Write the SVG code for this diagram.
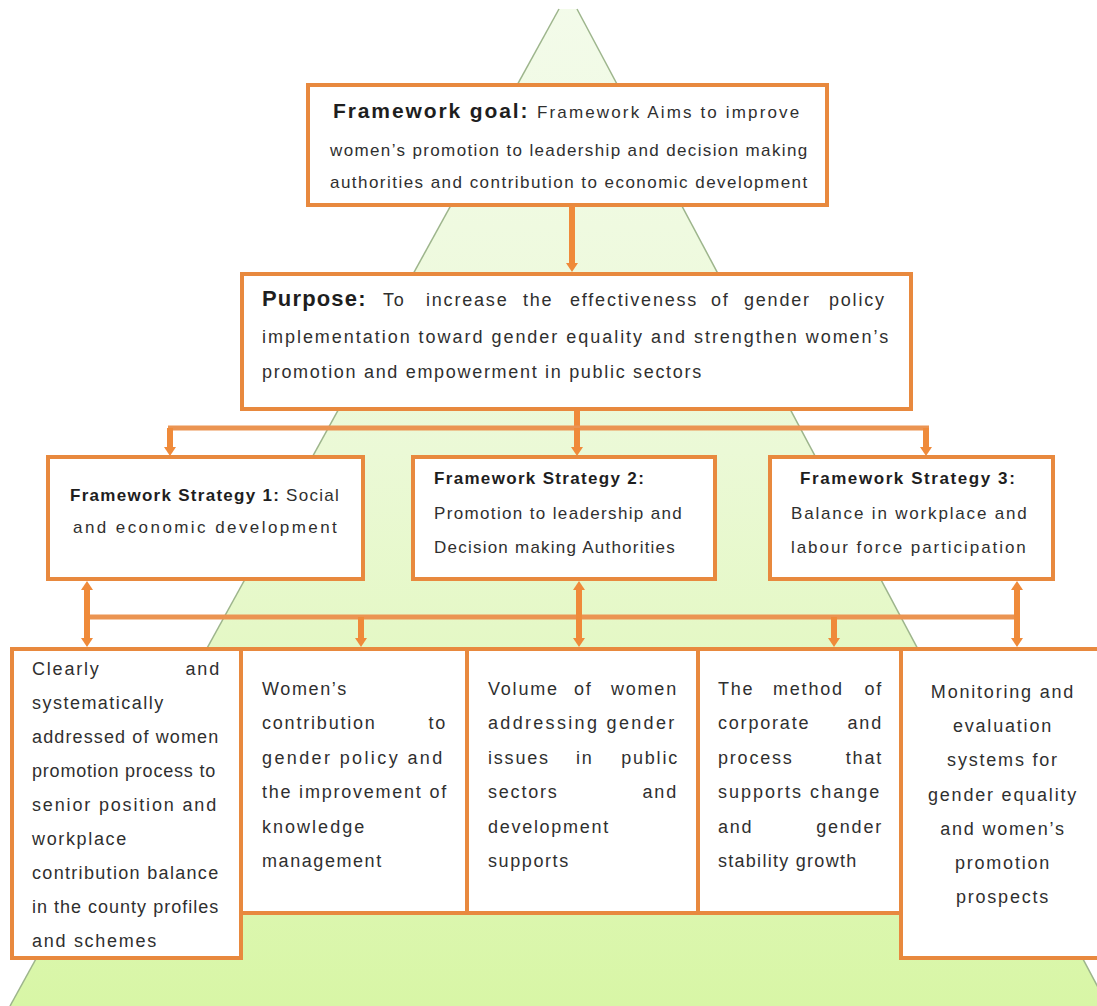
<svg xmlns="http://www.w3.org/2000/svg" width="1097" height="1006" viewBox="0 0 1097 1006">
<defs>
<linearGradient id="tri" x1="0" y1="0" x2="0" y2="1006" gradientUnits="userSpaceOnUse">
<stop offset="0" stop-color="#f3fbea"/>
<stop offset="0.45" stop-color="#ebf9d6"/>
<stop offset="1" stop-color="#d8f6a6"/>
</linearGradient>
<marker id="ah" viewBox="0 0 9 12" refX="0" refY="6" markerWidth="9" markerHeight="12" markerUnits="userSpaceOnUse" orient="auto-start-reverse">
<path d="M0,0 L9,6 L0,12 z" fill="#ef8a3a"/>
</marker>
<style>
.box{fill:#ffffff;stroke:#e8893e;stroke-width:4}
.t{font-family:"Liberation Sans",Arial,sans-serif;font-size:18px;letter-spacing:1.8px;fill:#2f2f2f}
.s{font-size:17px;letter-spacing:1.2px}
.g{font-size:17px;letter-spacing:0.8px}
.b{font-weight:bold;fill:#1e1e1e}
.h{font-size:21px;letter-spacing:0.6px}
.e{text-anchor:end}
.m{text-anchor:middle}
.edge{stroke:#9db58c;stroke-width:1.5;fill:none}
.conn line{stroke:#ef8a3a;stroke-width:6;fill:none}
.conn line.bar{stroke:#eb9452;stroke-width:5}
</style>
</defs>
<rect width="1097" height="1006" fill="#ffffff"/>
<g id="pyramid">
<polygon points="559,9 577,9 1108,1006 10,1006" fill="url(#tri)"/>
<line class="edge" x1="559" y1="9" x2="10" y2="1006"/>
<line class="edge" x1="577" y1="9" x2="1108" y2="1006"/>
</g>

<g id="goal">
<rect class="box" x="308" y="85" width="519" height="120"/>
<text class="t b h" x="333" y="118" textLength="195" lengthAdjust="spacing">Framework goal:</text>
<text class="t g" x="537" y="118" textLength="263" lengthAdjust="spacing">Framework Aims to improve</text>
<text class="t g" x="330" y="156" textLength="478" lengthAdjust="spacing">women’s promotion to leadership and decision making</text>
<text class="t g" x="330" y="188" textLength="478" lengthAdjust="spacing">authorities and contribution to economic development</text>
</g>

<g id="purpose">
<rect class="box" x="242" y="274" width="669" height="135"/>
<text class="t b" x="262" y="306" style="font-size:22px;letter-spacing:0.5px" textLength="104" lengthAdjust="spacing">Purpose:</text>
<text class="t" y="306"><tspan x="383">To</tspan><tspan x="426">increase</tspan><tspan x="523">the</tspan><tspan x="570">effectiveness</tspan><tspan x="711">of</tspan><tspan x="744">gender</tspan><tspan x="829">policy</tspan></text>
<text class="t" x="262" y="343" textLength="628" lengthAdjust="spacing">implementation toward gender equality and strengthen women’s</text>
<text class="t" x="262" y="378" textLength="441" lengthAdjust="spacing">promotion and empowerment in public sectors</text>
</g>

<g id="strategy1">
<rect class="box" x="48" y="457" width="315" height="122"/>
<text class="t s" x="70" y="501" textLength="270" lengthAdjust="spacing"><tspan class="b">Framework Strategy 1:</tspan> Social</text>
<text class="t s" x="73" y="533" textLength="265" lengthAdjust="spacing">and economic development</text>
</g>

<g id="strategy2">
<rect class="box" x="413" y="457" width="302" height="122"/>
<text class="t s b" x="434" y="484" textLength="211" lengthAdjust="spacing">Framework Strategy 2:</text>
<text class="t s" x="434" y="519" textLength="249" lengthAdjust="spacing">Promotion to leadership and</text>
<text class="t s" x="434" y="553" textLength="242" lengthAdjust="spacing">Decision making Authorities</text>
</g>

<g id="strategy3">
<rect class="box" x="770" y="457" width="283" height="122"/>
<text class="t s b" x="800" y="484" textLength="216" lengthAdjust="spacing">Framework Strategy 3:</text>
<text class="t s" x="791" y="519" textLength="237" lengthAdjust="spacing">Balance in workplace and</text>
<text class="t s" x="791" y="553" textLength="236" lengthAdjust="spacing">labour force participation</text>
</g>

<g id="boxA">
<rect class="box" x="12" y="649" width="229" height="309"/>
<text class="t" x="32" y="675">Clearly</text>
<text class="t e" x="221" y="675">and</text>
<text class="t" x="32" y="709" textLength="133" lengthAdjust="spacing">systematically</text>
<text class="t" x="32" y="743" textLength="188" lengthAdjust="spacing">addressed of women</text>
<text class="t" x="32" y="777" textLength="185" lengthAdjust="spacing">promotion process to</text>
<text class="t" x="32" y="811" textLength="186" lengthAdjust="spacing">senior position and</text>
<text class="t" x="32" y="845" textLength="96" lengthAdjust="spacing">workplace</text>
<text class="t" x="32" y="879" textLength="188" lengthAdjust="spacing">contribution balance</text>
<text class="t" x="32" y="913" textLength="188" lengthAdjust="spacing">in the county profiles</text>
<text class="t" x="32" y="947" textLength="126" lengthAdjust="spacing">and schemes</text>
</g>

<g id="boxB">
<rect class="box" x="241" y="649" width="226" height="264"/>
<text class="t" x="262" y="695" textLength="86" lengthAdjust="spacing">Women’s</text>
<text class="t" x="262" y="729">contribution</text>
<text class="t e" x="447" y="729">to</text>
<text class="t" x="262" y="764" textLength="182" lengthAdjust="spacing">gender policy and</text>
<text class="t" x="262" y="798" textLength="186" lengthAdjust="spacing">the improvement of</text>
<text class="t" x="262" y="833" textLength="104" lengthAdjust="spacing">knowledge</text>
<text class="t" x="262" y="867" textLength="121" lengthAdjust="spacing">management</text>
</g>

<g id="boxC">
<rect class="box" x="467" y="649" width="231" height="264"/>
<text class="t" x="488" y="695">Volume</text>
<text class="t" x="574" y="695">of</text>
<text class="t e" x="678" y="695">women</text>
<text class="t" x="488" y="729" textLength="188" lengthAdjust="spacing">addressing gender</text>
<text class="t" x="488" y="764">issues</text>
<text class="t" x="576" y="764">in</text>
<text class="t e" x="679" y="764">public</text>
<text class="t" x="488" y="798">sectors</text>
<text class="t e" x="678" y="798">and</text>
<text class="t" x="488" y="833" textLength="122" lengthAdjust="spacing">development</text>
<text class="t" x="488" y="867" textLength="82" lengthAdjust="spacing">supports</text>
</g>

<g id="boxD">
<rect class="box" x="698" y="649" width="203" height="264"/>
<text class="t" x="718" y="695">The</text>
<text class="t" x="773" y="695">method</text>
<text class="t e" x="883" y="695">of</text>
<text class="t" x="718" y="729">corporate</text>
<text class="t e" x="883" y="729">and</text>
<text class="t" x="718" y="764">process</text>
<text class="t e" x="883" y="764">that</text>
<text class="t" x="718" y="798" textLength="163" lengthAdjust="spacing">supports change</text>
<text class="t" x="718" y="833">and</text>
<text class="t e" x="883" y="833">gender</text>
<text class="t" x="718" y="867" textLength="140" lengthAdjust="spacing">stability growth</text>
</g>

<g id="boxE">
<rect class="box" x="901" y="649" width="210" height="309"/>
<text class="t m" x="1003" y="698">Monitoring and</text>
<text class="t m" x="1003" y="732">evaluation</text>
<text class="t m" x="1003" y="766">systems for</text>
<text class="t m" x="1003" y="801">gender equality</text>
<text class="t m" x="1003" y="835">and women’s</text>
<text class="t m" x="1003" y="869">promotion</text>
<text class="t m" x="1003" y="903">prospects</text>
</g>

<g id="connectors" class="conn">
<line x1="572" y1="206" x2="572" y2="263" marker-end="url(#ah)"/>
<line x1="577" y1="410" x2="577" y2="428"/>
<line class="bar" x1="168" y1="428" x2="929" y2="428"/>
<line x1="170" y1="428" x2="170" y2="447" marker-end="url(#ah)"/>
<line x1="577" y1="428" x2="577" y2="447" marker-end="url(#ah)"/>
<line x1="926" y1="428" x2="926" y2="447" marker-end="url(#ah)"/>
<line class="bar" x1="87" y1="617" x2="1017" y2="617"/>
<line x1="87" y1="590" x2="87" y2="638" marker-start="url(#ah)" marker-end="url(#ah)"/>
<line x1="579" y1="590" x2="579" y2="638" marker-start="url(#ah)" marker-end="url(#ah)"/>
<line x1="1017" y1="590" x2="1017" y2="638" marker-start="url(#ah)" marker-end="url(#ah)"/>
<line x1="361" y1="617" x2="361" y2="638" marker-end="url(#ah)"/>
<line x1="834" y1="617" x2="834" y2="638" marker-end="url(#ah)"/>
</g>
</svg>
